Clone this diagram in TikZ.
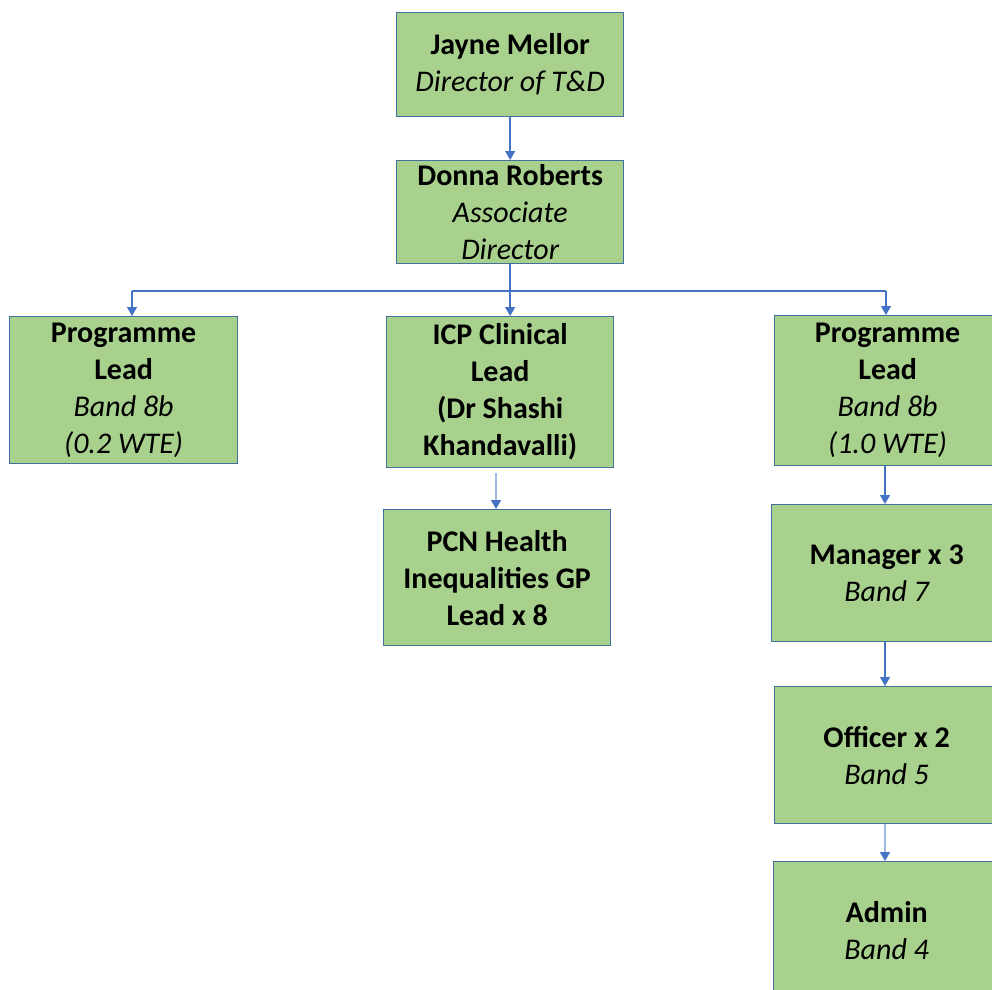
\documentclass[tikz,border=0pt]{standalone}
\usepackage{fontspec}
\setmainfont{Carlito}
\usetikzlibrary{arrows.meta}
\definecolor{boxgreen}{HTML}{A9D18E}
\definecolor{boxedge}{HTML}{41719C}
\definecolor{linkblue}{HTML}{4472C4}
\definecolor{lightlink}{HTML}{9DB8E2}
\begin{document}
\begin{tikzpicture}[x=1pt,y=-1pt,
  orgbox/.style={draw=boxedge, fill=boxgreen, line width=1.3pt, anchor=north west,
    align=center, inner sep=0pt, font=\fontsize{30}{37}\selectfont},
  link/.style={draw=linkblue, line width=1.4pt, -{Triangle[width=10pt,length=9pt]}},
  faintlink/.style={draw=lightlink, line width=1.6pt, -{Triangle[width=10pt,length=9pt,color=linkblue]}},
  busline/.style={draw=linkblue, line width=1.4pt}]
\useasboundingbox (0,0) rectangle (992,989);
\clip (0,0) rectangle (992,989);

\node[orgbox, minimum width=227pt, minimum height=104pt] (jayne) at (396,12)
  {\bfseries Jayne Mellor\\\itshape Director of T\&D};
\node[orgbox, minimum width=227pt, minimum height=103pt] (donna) at (396,160)
  {\bfseries Donna Roberts\\\itshape Associate\\\itshape Director};

\node[orgbox, minimum width=228pt, minimum height=147pt] (lpl) at (9,316)
  {\bfseries Programme\\\bfseries Lead\\\itshape Band 8b\\\itshape (0.2 WTE)};
\node[orgbox, minimum width=227pt, minimum height=151pt] (icp) at (386,316)
  {\bfseries ICP Clinical\\\bfseries Lead\\\bfseries (Dr Shashi\\\bfseries Khandavalli)};
\node[orgbox, minimum width=226pt, minimum height=150pt] (rpl) at (774,315)
  {\bfseries Programme\\\bfseries Lead\\\itshape Band 8b\\\itshape (1.0 WTE)};

\node[orgbox, minimum width=227pt, minimum height=136pt] (pcn) at (383,509)
  {\bfseries PCN Health\\\bfseries Inequalities GP\\\bfseries Lead x 8};

\node[orgbox, minimum width=230pt, minimum height=137pt] (mgr) at (771,504)
  {\bfseries Manager x 3\\\itshape Band 7};
\node[orgbox, minimum width=224pt, minimum height=137pt] (off) at (774,686)
  {\bfseries Officer x 2\\\itshape Band 5};
\node[orgbox, minimum width=226pt, minimum height=137pt] (adm) at (773,861)
  {\bfseries Admin\\\itshape Band 4};

% connectors
\draw[link] (jayne.south) -- (donna.north);
\coordinate (busL) at (132,291);
\coordinate (busR) at (886,291);
\draw[busline] (busL) -- (busR);
\draw[link] (donna.south) -- (donna.south |- icp.north);
\draw[link] (busL) -- (busL |- lpl.north);
\draw[link] (busR) -- (busR |- rpl.north);
\coordinate (icpout) at (496,473);
\draw[faintlink] (icpout) -- (icpout |- pcn.north);
\coordinate (rcol) at (885,0);
\draw[link] (rcol |- rpl.south) -- (rcol |- mgr.north);
\draw[link] (rcol |- mgr.south) -- (rcol |- off.north);
\draw[faintlink] (rcol |- off.south) -- (rcol |- adm.north);
\end{tikzpicture}
\end{document}
